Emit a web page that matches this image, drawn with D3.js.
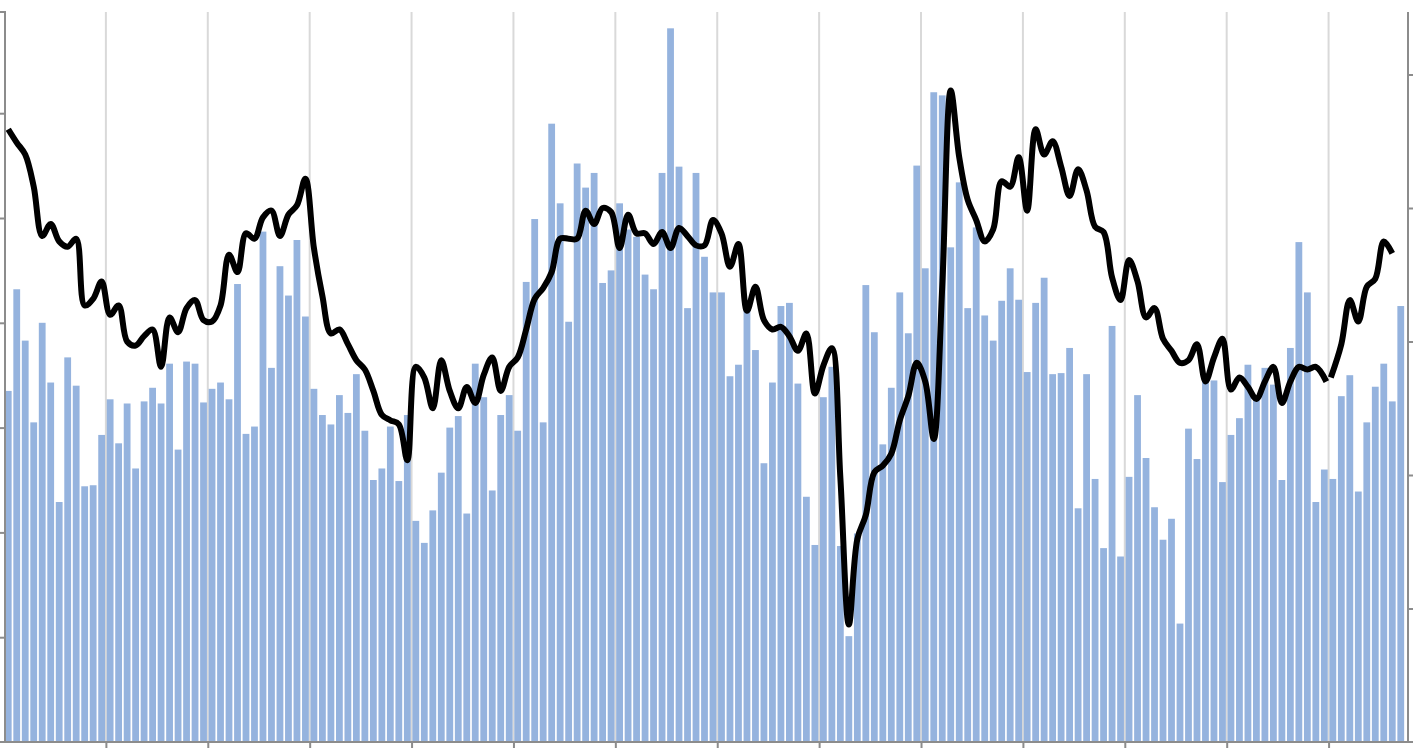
<!DOCTYPE html>
<html><head><meta charset="utf-8">
<script src="https://cdn.jsdelivr.net/npm/d3@7"></script>
<style>html,body{margin:0;padding:0;background:#fff;overflow:hidden}</style>
</head><body><svg id="c" width="1413" height="748"></svg>
<script>
const barValues = [3.35,4.32,3.83,3.05,4.00,3.43,2.29,3.67,3.40,2.44,2.45,2.93,
3.27,2.85,3.23,2.61,3.25,3.38,3.23,3.61,2.79,3.63,3.61,3.24,
3.37,3.43,3.27,4.37,2.94,3.01,4.87,3.57,4.54,4.26,4.79,4.06,
3.37,3.12,3.03,3.31,3.14,3.51,2.97,2.50,2.61,3.01,2.49,3.12,
2.11,1.90,2.21,2.57,3.00,3.11,2.18,3.61,3.29,2.40,3.12,3.31,
2.97,4.39,4.99,3.05,5.90,5.14,4.01,5.52,5.29,5.43,4.38,4.50,
5.14,4.89,4.82,4.46,4.32,5.43,6.81,5.49,4.14,5.43,4.63,4.29,
4.29,3.49,3.60,4.14,3.74,2.66,3.43,4.16,4.19,3.42,2.34,1.88,
3.29,3.58,1.87,1.01,1.99,4.36,3.91,2.84,3.38,4.29,3.90,5.50,
4.52,6.20,6.17,4.72,5.34,4.14,4.91,4.07,3.83,4.21,4.52,4.22,
3.53,4.19,4.43,3.51,3.52,3.76,2.23,3.51,2.51,1.85,3.97,1.77,
2.53,3.31,2.71,2.24,1.93,2.13,1.13,2.99,2.70,3.45,3.45,2.48,
2.93,3.09,3.60,3.26,3.57,3.41,2.50,3.76,4.77,4.29,2.29,2.60,
2.51,3.30,3.50,2.39,3.05,3.39,3.61,3.25,4.16];
const lineValues = [4.59,4.49,4.40,4.16,3.79,3.88,3.75,3.71,3.77,3.27,3.32,3.45,
3.20,3.27,3.00,2.97,3.04,3.09,2.81,3.18,3.07,3.25,3.31,3.16,
3.15,3.27,3.65,3.52,3.81,3.77,3.93,3.98,3.79,3.95,4.02,4.22,
3.70,3.34,3.06,3.09,2.98,2.86,2.79,2.63,2.45,2.41,2.38,2.11,
2.81,2.73,2.50,2.86,2.63,2.50,2.66,2.54,2.75,2.88,2.63,2.81,
2.88,3.09,3.32,3.40,3.52,3.77,3.77,3.77,3.98,3.88,4.00,3.97,
3.70,3.95,3.81,3.81,3.73,3.82,3.70,3.85,3.79,3.72,3.72,3.91,
3.81,3.56,3.73,3.23,3.41,3.16,3.09,3.11,3.04,2.93,3.06,2.61,
2.82,2.95,1.98,0.88,1.52,1.70,2.02,2.07,2.16,2.41,2.59,2.84,
2.70,2.27,3.41,4.88,4.38,4.06,3.91,3.75,3.84,4.20,4.16,4.38,
3.98,4.59,4.40,4.50,4.31,4.09,4.29,4.13,3.86,3.82,3.48,3.31,
3.61,3.45,3.18,3.25,3.02,2.93,2.84,2.86,2.98,2.70,2.88,3.02,
2.64,2.73,2.66,2.57,2.70,2.81,2.54,2.70,2.81,2.79,2.81,2.70,
2.73,2.98,3.31,3.15,3.41,3.47,3.75,3.66,null];
const lineBreakAt = 156; // line drawn as two segments
const leftTicks = [1,2,3,4,5,6];
const rightTicks = [1,2,3,4,5];
const gridEvery = 12;

const svg = d3.select("#c");
const X0 = 4, X1 = 1405, Y0 = 742, YT = 12;
const n = barValues.length;
const xb = d3.scaleBand().domain(d3.range(n)).range([X0, X1]).paddingInner(0.2).paddingOuter(0.1);
const xl = d3.scaleLinear().domain([0, n]).range([X0, X1]);
const yL = d3.scaleLinear().domain([0, (Y0 - YT) / 104.8]).range([Y0, YT]);
const yR = d3.scaleLinear().domain([0, (Y0 - YT) / 133.5]).range([Y0, YT]);

const gridVals = d3.range(gridEvery, n, gridEvery);
svg.append("g").selectAll("line").data(gridVals).join("line")
  .attr("x1", d => xl(d)).attr("x2", d => xl(d)).attr("y1", YT).attr("y2", Y0)
  .attr("stroke", "#d9d9d9").attr("stroke-width", 2);

svg.append("g").selectAll("rect").data(barValues).join("rect")
  .attr("x", (d, i) => xb(i)).attr("width", xb.bandwidth())
  .attr("y", d => yL(d)).attr("height", d => Y0 - yL(d))
  .attr("fill", "#95b3de");

const cx = i => xb(i) + xb.bandwidth() / 2;
const line = d3.line().defined(d => d.v != null)
  .x(d => d.x).y(d => yR(d.v)).curve(d3.curveCatmullRom.alpha(0.5));
const pts = lineValues.map((v, i) => ({i, v, x: cx(i)}));
const seg1 = pts.slice(0, lineBreakAt), seg2 = pts.slice(lineBreakAt);
// small visual gap between the two segments
seg1[seg1.length - 1] = {...seg1[seg1.length - 1], x: cx(lineBreakAt - 1) + 2};
seg2[0] = {...seg2[0], x: cx(lineBreakAt) - 2};
[seg1, seg2].forEach(seg => {
  svg.append("path").datum(seg).attr("d", line)
    .attr("fill", "none").attr("stroke", "#000").attr("stroke-width", 6)
    .attr("stroke-linejoin", "round").attr("stroke-linecap", "butt");
});

const axisColor = "#8c8c8c";
const gl = svg.append("g").attr("transform", `translate(${X0 + 1},0)`)
  .call(d3.axisLeft(yL).tickValues(leftTicks).tickSize(6).tickFormat(""));
const gr = svg.append("g").attr("transform", `translate(1408,0)`)
  .call(d3.axisRight(yR).tickValues(rightTicks).tickSize(6).tickFormat(""));
const gb = svg.append("g").attr("transform", `translate(0,${Y0})`)
  .call(d3.axisBottom(xl).tickValues(gridVals).tickSize(6).tickFormat("").tickSizeOuter(0));
[gl, gr, gb].forEach(g => {
  g.selectAll("path,line").attr("stroke", axisColor).attr("stroke-width", 2);
});
gl.select(".domain").attr("d", `M-6,${YT}H0V${Y0}`);
gr.select(".domain").attr("d", `M0,${YT}V${Y0}`);
gb.select(".domain").attr("d", `M0,0H1413`);
</script></body></html>
